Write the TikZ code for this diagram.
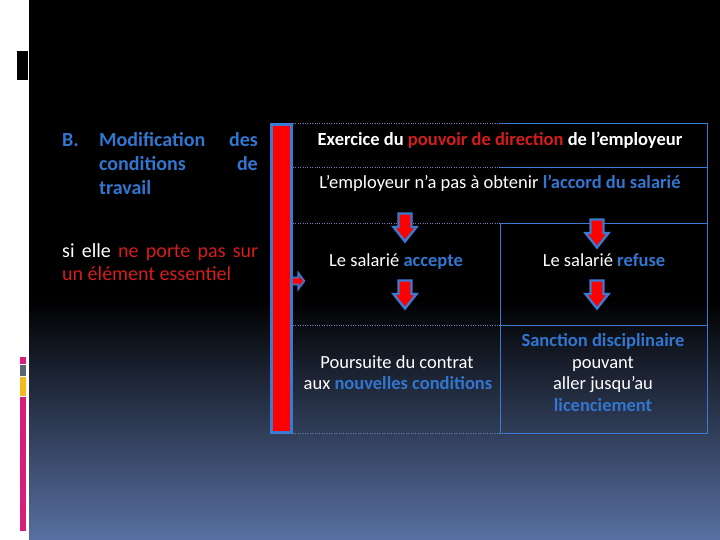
\documentclass[tikz,border=0pt]{standalone}
\usepackage{fontspec}
\setmainfont{Carlito}
\definecolor{myblue}{RGB}{50,118,208}
\definecolor{myred}{RGB}{214,28,28}
\definecolor{bord}{RGB}{58,122,208}
\definecolor{bgbot}{RGB}{88,112,162}
\definecolor{dotc}{RGB}{110,130,190}
\definecolor{pinkbar}{RGB}{214,30,122}
\definecolor{graybar}{RGB}{90,100,112}
\definecolor{yellowbar}{RGB}{245,185,30}
\tikzset{
  arrstyle/.style={draw=bord, fill=red, line width=2.4pt, line join=miter},
  darr/.pic={\draw[arrstyle] (-6.5,0) -- (6.5,0) -- (6.5,13.5) -- (11.5,13.5) -- (0,28) -- (-11.5,13.5) -- (-6.5,13.5) -- cycle;},
  txt/.style={text=white, font=\fontsize{18.5}{21.5}\selectfont, inner sep=0pt, text height=15pt, text depth=2pt},
  lefttxt/.style={text=myblue, font=\fontsize{20}{24}\selectfont\bfseries, inner sep=0pt},
  dotline/.style={dotc, line width=0.6pt, dash pattern=on 0.8pt off 1.6pt},
  solidline/.style={bord, line width=0.9pt}
}
\begin{document}
\begin{tikzpicture}[x=1pt,y=-1pt]
\useasboundingbox (0,0) rectangle (720,540);
% background
\fill[white] (0,0) rectangle (29,540);
\fill[black] (29,0) rectangle (720,300);
\shade[top color=black,bottom color=bgbot] (29,299.5) rectangle (720,540);
\fill[black] (17,51) rectangle (28,80);
\fill[pinkbar] (20,357) rectangle (26,364);
\fill[graybar] (20,365) rectangle (26,376);
\fill[yellowbar] (20,377) rectangle (26,396);
\fill[pinkbar] (20,397) rectangle (26,531);

% left text
\node[lefttxt, anchor=base west] (b) at (62,147) {B.};
\node[lefttxt, anchor=base west] (l1a) at (99,147) {Modification};
\node[lefttxt, anchor=base east] (l1b) at (258,147) {des};
\node[lefttxt, anchor=base west] (l2a) at (99,171) {conditions};
\node[lefttxt, anchor=base east] (l2b) at (258,171) {de};
\node[lefttxt, anchor=base west] (l3a) at (99,195) {travail};
\node[text=white, font=\fontsize{20}{24}\selectfont, inner sep=0pt, anchor=base west] (s1) at (62,257)
  {\makebox[196pt][s]{si elle \textcolor{myred}{ne porte pas sur}}};
\node[text=myred, font=\fontsize{20}{24}\selectfont, inner sep=0pt, anchor=base west] (s2) at (62,280)
  {un élément essentiel};

% vertical red bar
\node[draw=bord, fill=red, line width=2.5pt, minimum width=20pt, minimum height=308pt, inner sep=0pt] (bar) at (281.5,278.5) {};
\coordinate (rtail) at (bar.east |- 0,281);
\draw[arrstyle, line width=1.8pt] (rtail) ++(0,-3.5) -- ++(5.5,0) -- ++(0,-4.5) -- ++(6,8) -- ++(-6,8) -- ++(0,-4.5) -- ++(-5.5,0);

% table lines
\draw[dotline] (293,123) -- (500,123);
\draw[dotline] (293,167) -- (500,167);
\draw[dotline] (293,223) -- (500,223);
\draw[dotline] (293,325) -- (500,325);
\draw[dotline] (293,433) -- (500,433);
\draw[solidline] (500,123) -- (707,123) -- (707,433) -- (500,433) -- (500,223);
\draw[solidline] (500,167) -- (707,167);
\draw[solidline] (500,223) -- (707,223);
\draw[solidline] (500,325) -- (707,325);

% table text
\node[txt] (t1) at (500,139) {\bfseries Exercice du \textcolor{myred}{pouvoir de direction} de l’employeur};
\node[txt] (t2) at (500,182) {L’employeur n’a pas à obtenir \textcolor{myblue}{\bfseries l’accord du salarié}};
\node[txt] (acc) at (396,260) {Le salarié \textcolor{myblue}{\bfseries accepte}};
\node[txt] (ref) at (604,260) {Le salarié \textcolor{myblue}{\bfseries refuse}};
\node[txt] (p1) at (397,362) {Poursuite du contrat};
\node[txt] (p2) at (398,383) {aux \textcolor{myblue}{\bfseries nouvelles conditions}};
\node[txt] (q1) at (603,340) {\textcolor{myblue}{\bfseries Sanction disciplinaire}};
\node[txt] (q2) at (603,362) {pouvant};
\node[txt] (q3) at (603,383) {aller jusqu’au};
\node[txt] (q4) at (603,405) {\textcolor{myblue}{\bfseries licenciement}};

% arrows
\pic (a1) at (405,213.5) {darr};
\pic (a2) at (405,280.5) {darr};
\pic (a3) at (597,219.5) {darr};
\pic (a4) at (597,280.5) {darr};
\end{tikzpicture}
\end{document}
